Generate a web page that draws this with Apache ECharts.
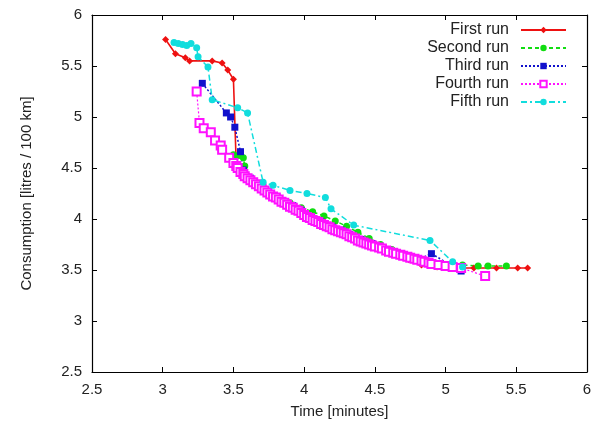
<!DOCTYPE html>
<html>
<head>
<meta charset="utf-8">
<script src="https://cdn.jsdelivr.net/npm/echarts@6/dist/echarts.min.js"></script>
<style>
  html, body { margin: 0; padding: 0; background: #fff; }
  #chart { width: 608px; height: 425px; }
</style>
</head>
<body>
<div id="chart"></div>
<script>
// Fuel consumption vs. elapsed time for five runs: [time (min), litres / 100 km]
const xTicks = [2.5, 3, 3.5, 4, 4.5, 5, 5.5, 6];
const yTicks = [2.5, 3, 3.5, 4, 4.5, 5, 5.5, 6];

const firstRun = [
  [3.02,5.76],[3.09,5.62],[3.16,5.58],[3.19,5.55],[3.35,5.55],[3.42,5.53],[3.46,5.46],[3.50,5.37],
  [3.52,4.53],[3.56,4.45],[3.62,4.38],[3.70,4.30],[3.78,4.22],[3.86,4.15],[3.94,4.09],[4.02,4.02],
  [4.10,3.96],[4.18,3.91],[4.26,3.86],[4.34,3.81],[4.42,3.76],[4.50,3.72],[4.58,3.68],[4.66,3.64],
  [4.74,3.60],[4.83,3.55],[4.94,3.53],[5.06,3.52],[5.20,3.52],[5.36,3.52],[5.51,3.52],[5.58,3.52]
];
const secondRun = [
  [3.50,4.63],[3.53,4.62],[3.57,4.60],[3.58,4.52],[3.60,4.42],[3.66,4.35],[3.74,4.27],[3.82,4.21],
  [3.90,4.16],[3.98,4.11],[4.06,4.07],[4.14,4.03],[4.22,3.98],[4.30,3.93],[4.38,3.87],[4.46,3.81],
  [4.54,3.75],[4.62,3.70],[4.70,3.66],[4.78,3.62],[4.87,3.57],[4.95,3.56],[5.04,3.55],[5.12,3.55],
  [5.23,3.54],[5.30,3.54],[5.43,3.54]
];
const thirdRun = [
  [3.28,5.33],[3.45,5.04],[3.48,5.00],[3.51,4.90],[3.55,4.66],[3.57,4.48],[3.62,4.40],[3.70,4.31],
  [3.78,4.23],[3.86,4.17],[3.92,4.13],[3.98,4.08],[4.05,4.02],[4.12,3.97],[4.20,3.92],[4.26,3.89],
  [4.32,3.85],[4.40,3.80],[4.48,3.76],[4.56,3.71],[4.64,3.67],[4.72,3.63],[4.80,3.60],[4.90,3.66],
  [5.11,3.49]
];
const fourthRun = [
  [3.24,5.25],[3.26,4.94],[3.29,4.89],[3.34,4.85],[3.37,4.77],[3.41,4.72],[3.42,4.68],[3.47,4.60],
  [3.50,4.55],[3.52,4.52],[3.53,4.50],[3.55,4.46],[3.57,4.44],[3.58,4.42],[3.60,4.40],[3.62,4.38],
  [3.64,4.36],[3.66,4.34],[3.68,4.32],[3.70,4.30],[3.72,4.28],[3.74,4.26],[3.76,4.24],[3.78,4.22],
  [3.80,4.21],[3.82,4.19],[3.84,4.17],[3.86,4.16],[3.88,4.14],[3.90,4.12],[3.92,4.11],[3.94,4.09],
  [3.96,4.08],[3.98,4.06],[4.00,4.04],[4.02,4.02],[4.04,4.01],[4.06,3.99],[4.08,3.98],[4.10,3.97],
  [4.12,3.95],[4.14,3.94],[4.16,3.93],[4.18,3.92],[4.20,3.90],[4.22,3.89],[4.24,3.88],[4.26,3.87],
  [4.28,3.86],[4.30,3.85],[4.32,3.83],[4.34,3.82],[4.36,3.81],[4.38,3.79],[4.40,3.78],[4.42,3.77],
  [4.44,3.76],[4.46,3.75],[4.48,3.74],[4.50,3.73],[4.53,3.72],[4.55,3.71],[4.58,3.69],[4.60,3.68],
  [4.63,3.67],[4.65,3.66],[4.68,3.65],[4.70,3.64],[4.73,3.63],[4.75,3.62],[4.78,3.61],[4.80,3.60],
  [4.83,3.59],[4.85,3.58],[4.88,3.57],[4.90,3.56],[4.95,3.55],[5.00,3.54],[5.05,3.53],[5.11,3.52],
  [5.28,3.44]
];
const fifthRun = [
  [3.08,5.73],[3.11,5.72],[3.14,5.71],[3.17,5.70],[3.20,5.72],[3.24,5.68],[3.25,5.59],[3.32,5.49],
  [3.35,5.17],[3.53,5.09],[3.60,5.04],[3.71,4.36],[3.78,4.33],[3.90,4.28],[4.02,4.25],[4.15,4.21],
  [4.19,4.10],[4.35,3.94],[4.89,3.79],[5.05,3.58],[5.12,3.53]
];

const runNames = ['First run', 'Second run', 'Third run', 'Fourth run', 'Fifth run'];
const runData = [firstRun, secondRun, thirdRun, fourthRun, fifthRun];

const styles = [
  { color: '#ee1111', type: 'solid',  width: 1.6, symbol: 'diamond',   size: 7 },
  { color: '#11dd11', type: [4, 3],   width: 1.5, symbol: 'circle',    size: 7 },
  { color: '#1111cc', type: [2, 2],   width: 1.5, symbol: 'rect',      size: 7 },
  { color: '#ff11ff', type: [2, 2],   width: 1.2, symbol: 'emptyRect', size: 8 },
  { color: '#11dddd', type: [6, 3, 2, 3], width: 1.5, symbol: 'circle', size: 7 }
];

const fontFamily = 'Liberation Sans, Arial, sans-serif';
const textColor = '#222';

const series = runData.map((d, i) => ({
  name: runNames[i],
  type: 'line',
  data: d,
  symbol: styles[i].symbol,
  symbolSize: styles[i].size,
  showSymbol: true,
  lineStyle: { color: styles[i].color, type: styles[i].type, width: styles[i].width },
  itemStyle: { color: styles[i].color, borderColor: styles[i].color, borderWidth: styles[i].symbol === 'emptyRect' ? 1.6 : 0 },
  animation: false
}));

const baseAxis = {
  min: 2.5, max: 6, interval: 0.5,
  axisLine: { onZero: false, lineStyle: { color: '#000', width: 1.2 } },
  axisTick: { inside: true, length: 5, lineStyle: { color: '#000' } },
  splitLine: { show: false }
};

const chart = echarts.init(document.getElementById('chart'));
chart.setOption({
  backgroundColor: '#fff',
  animation: false,
  grid: { left: 92, right: 21, top: 15, bottom: 53 },
  legend: {
    orient: 'vertical',
    right: 36,
    top: 17,
    align: 'right',
    itemWidth: 45,
    itemHeight: 8,
    itemGap: 2,
    data: runNames,
    textStyle: { fontFamily, fontSize: 16, color: textColor, width: 92, align: 'right', lineHeight: 15, padding: [0, 7, 0, 0] }
  },
  xAxis: [
    Object.assign({}, baseAxis, {
      type: 'value', position: 'bottom',
      name: 'Time [minutes]', nameLocation: 'middle', nameGap: 32,
      nameTextStyle: { fontFamily, fontSize: 15, color: textColor },
      axisLabel: { fontFamily, fontSize: 15, color: textColor, margin: 10,
        formatter: v => xTicks.includes(v) ? String(v) : '' }
    }),
    Object.assign({}, baseAxis, {
      type: 'value', position: 'top', axisLabel: { show: false }
    })
  ],
  yAxis: [
    Object.assign({}, baseAxis, {
      type: 'value', position: 'left',
      name: 'Consumption [litres / 100 km]', nameLocation: 'middle', nameGap: 58,
      nameTextStyle: { fontFamily, fontSize: 15, color: textColor },
      axisLabel: { fontFamily, fontSize: 15, color: textColor, margin: 10,
        formatter: v => yTicks.includes(v) ? String(v) : '' }
    }),
    Object.assign({}, baseAxis, {
      type: 'value', position: 'right', axisLabel: { show: false }
    })
  ],
  series
});
</script>
</body>
</html>
